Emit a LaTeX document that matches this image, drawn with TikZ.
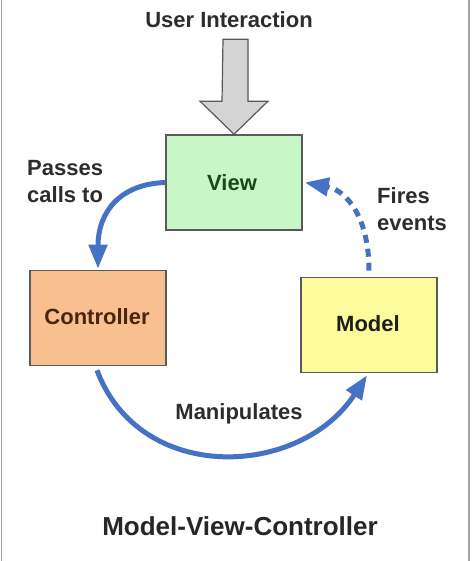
\documentclass[tikz,border=0pt]{standalone}
\usepackage{fontspec}
\setmainfont{Liberation Sans}
\usetikzlibrary{arrows.meta,calc}
\definecolor{mvcblue}{RGB}{70,114,196}
\definecolor{txt}{RGB}{45,45,45}
\definecolor{boxline}{RGB}{90,90,90}
\definecolor{viewfill}{RGB}{200,246,200}
\definecolor{ctrlfill}{RGB}{248,192,142}
\definecolor{modelfill}{RGB}{252,252,156}
\definecolor{grayarrow}{RGB}{212,212,212}
\tikzset{
  box/.style={draw=boxline,line width=1.6pt,minimum width=136pt,minimum height=95pt,inner sep=0pt},
  lbl/.style={font=\fontsize{22}{27}\selectfont\bfseries,text=txt,inner sep=0pt},
  flow/.style={draw=mvcblue,line width=5pt,-{Triangle[width=18pt,length=24pt]}},
}
\begin{document}
\begin{tikzpicture}[x=1pt,y=-1pt]
\useasboundingbox (0,0) rectangle (472,561);
\fill[white] (0,0) rectangle (472,561);
\draw[gray!70,line width=1.5pt] (1.5,0) -- (1.5,561);
\draw[gray!70,line width=1.5pt] (469,0) -- (469,561);

\node[box,fill=viewfill] (view) at (234,182.5) {};
\node[box,fill=ctrlfill] (ctrl) at (98,318) {};
\node[box,fill=modelfill] (model) at (369,325) {};

\node[lbl,anchor=base,text={rgb,255:red,25;green,75;blue,25}] (viewt) at (232,190) {View};
\node[lbl,anchor=base,text={rgb,255:red,70;green,38;blue,15}] (ctrlt) at (97,324) {Controller};
\node[lbl,anchor=base,text={rgb,255:red,30;green,30;blue,30}] (modelt) at (368,331) {Model};

\node[lbl,anchor=base] (user) at (229,28) {User Interaction};
\node[lbl,anchor=base west,align=left] (passes) at (27,202) {Passes\\calls to};
\node[lbl,anchor=base west,align=left] (fires) at (377,230) {Fires\\events};
\node[lbl,anchor=base] (manip) at (239,419) {Manipulates};
\node[font=\fontsize{26}{30}\selectfont\bfseries,text=black!85,inner sep=0pt,anchor=base] (title) at (240,535) {Model-View-Controller};

% big gray arrow from user to view
\draw[draw=boxline,line width=1.2pt,fill=grayarrow,line join=miter]
  ($(view.north)+(-11,-95)$) -- ++(25,0) -- ++(0,62) -- ++(20,0) -- (view.north) -- ++(-34,-33) -- ++(22,0) -- cycle;

% connectors
\draw[flow] (view.west) .. controls (120,184) and (98,212) .. ($(ctrl.north)+(0,-1)$);
\draw[flow,dash pattern=on 8pt off 6pt] ($(model.north)+(0,-6)$) .. controls (369,215) and (345,190) .. ($(view.east)+(2,0)$);
\draw[flow] ($(ctrl.south)+(-1,4)$) .. controls (140,485) and (300,478) .. ($(model.south)+(-2,2)$);
\end{tikzpicture}
\end{document}
